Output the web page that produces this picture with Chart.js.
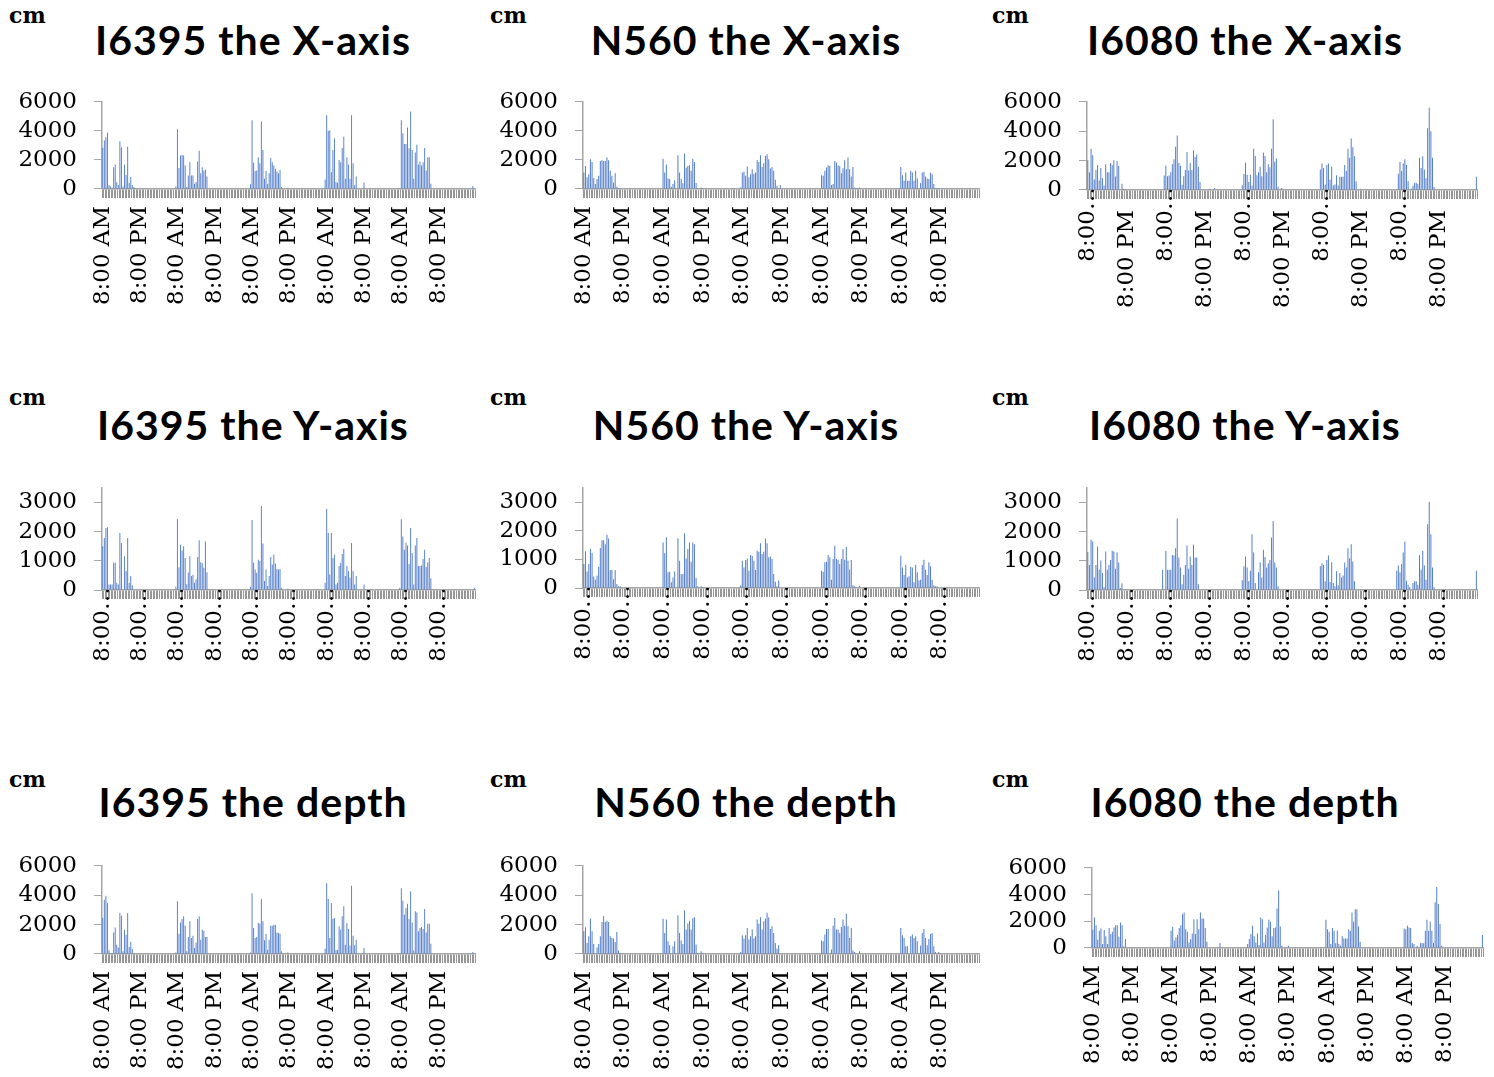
<!DOCTYPE html>
<html>
<head>
<meta charset="utf-8">
<script src="https://cdn.jsdelivr.net/npm/chart.js@4.4.0/dist/chart.umd.min.js"></script>
<style>
html, body { margin: 0; padding: 0; background: #fff; width: 1494px; height: 1077px; overflow: hidden; }
.unit { position: absolute; font: bold 22px "DejaVu Serif"; line-height: 22px; color: #000; }
.ttl { position: absolute; font: bold 41px Lato; letter-spacing: 1px; line-height: 40px; color: #000; white-space: nowrap; transform: translateX(-50%); }
canvas { position: absolute; }
</style>
</head>
<body>
<script>
// half-hour slots, 5 days starting 8:00 AM
const dayNames = ['Day 1', 'Day 2', 'Day 3', 'Day 4', 'Day 5'];
const timeCategories = [];
dayNames.forEach(d => {
    for (let s = 0; s < 48; s++) {
        const m = 8 * 60 + s * 30;
        const h = Math.floor(m / 60) % 24;
        timeCategories.push(d + ' ' + h + ':' + (m % 60 === 0 ? '00' : '30'));
    }
});

const tickAmPm = ['8:00 AM', '8:00 PM'];
const tickCutAm = ['8:00\u2026', '8:00 PM\u2003'];
const tickCut = ['8:00\u2026', '8:00\u2026'];
const yTicks6000 = [0, 2000, 4000, 6000];
const yTicks3000 = [0, 1000, 2000, 3000];

const i6395X = [
    2830,3330,3560,3890,280,180,90,1490,1680,460,280,3290,2870,180,1680,970,2900,410,830,280,140,45,0,60,
    0,0,0,0,0,0,0,0, 0,0,0,0,0,0,0,0, 0,0,0,0,0,0,0,180,
    4110,1450,2300,2340,2300,1610,140,930,1840,930,930,360,480,1890,2640,1090,1500,1270,1320,860,0,0,0,0,
    0,0,0,0,0,0,0,0, 0,0,0,0,0,0,0,0, 0,0,0,0,0,0,0,320,
    4730,1800,1230,1270,2180,1770,4640,2680,700,1230,360,1090,2140,1840,1610,1390,1200,1090,1320,140,0,0,0,90,
    0,0,0,0,0,0,0,0, 0,0,0,0,0,0,0,0, 0,0,0,0,0,0,0,640,
    5070,4000,4050,1160,2680,3480,480,430,2000,1840,2820,3590,700,2180,1680,700,5070,1770,250,860,0,0,0,0,
    450,0,0,0,0,0,0,0, 0,0,0,0,0,0,0,0, 0,0,0,0,0,0,0,70,
    4730,3840,3090,3090,4230,2800,5340,2680,700,2520,3050,1680,1890,1610,1840,2820,1270,2180,2180,360,0,0,0,0,
    0,0,0,0,0,0,0,0, 0,0,0,0,0,0,0,0, 0,0,0,0,0,0,200,0
];
const n560X = [
    1140,1590,800,1020,2050,1860,750,340,680,910,1930,1980,1930,1930,2160,1980,1250,910,450,1090,160,70,70,0,
    0,0,0,0,0,0,0,0, 0,0,0,0,0,0,0,0, 0,0,0,0,0,0,0,0,
    2090,1140,1680,730,680,160,340,610,0,2320,1140,680,390,2450,1480,1590,1640,1250,2090,1860,410,70,0,110,
    70,0,0,0,0,0,0,0, 0,0,0,0,0,0,0,0, 0,0,70,0,0,0,0,110,
    1140,1180,910,1550,800,1020,1360,1050,1140,1980,1860,2320,1520,1770,2270,2390,2050,1410,1520,1250,640,230,70,270,
    0,0,0,0,0,0,0,0, 0,0,0,0,0,0,0,0, 0,0,0,0,0,0,0,0,
    950,910,1250,1480,1640,1590,270,340,1930,1820,1640,1590,1090,1430,1980,1360,2160,1360,860,1520,110,70,70,110,
    0,0,0,0,0,0,0,0, 0,0,0,0,0,0,0,0, 0,0,0,0,0,0,0,70,
    1520,950,570,1140,570,570,1250,1140,570,1250,730,45,410,1140,1180,860,730,680,1140,1020,340,70,70,70,
    0,0,0,0,0,0,0,0, 0,0,0,0,0,0,0,0, 0,0,0,0,0,0,0,0
];
const i6080X = [
    2030,1200,2810,2360,710,1360,1700,650,1490,800,310,1760,1200,1200,1830,1700,2030,910,1980,1650,0,420,90,70,
    0,0,0,0,0,0,0,0, 0,0,0,0,0,0,0,0, 0,0,0,0,0,0,0,980,
    1650,940,980,1200,1760,2100,2940,3700,1830,1650,360,940,1360,2590,1320,1830,1360,2700,2250,2410,1580,540,0,0,
    0,0,0,90,0,0,130,0, 0,0,0,0,0,0,0,0, 0,0,0,0,0,0,0,310,
    1090,1870,1030,540,1030,310,2810,2320,1000,1200,1580,940,2540,2320,1200,1760,1540,2810,4820,1920,2140,220,0,130,
    90,0,0,0,0,0,0,0, 0,0,0,0,0,0,0,0, 0,0,0,0,0,0,0,1400,
    1800,1500,380,1700,1800,700,1600,300,380,1000,300,900,900,900,1700,1300,2800,2200,3500,2900,2300,600,0,0,
    90,0,0,0,0,0,0,0, 0,0,0,0,0,0,0,0, 0,0,0,0,0,0,0,1100,
    1900,1300,1800,2100,1700,600,0,100,300,500,500,400,2200,1500,2300,1400,800,4200,5600,4000,2200,200,0,0,
    0,0,0,0,0,0,0,0, 0,0,0,0,0,0,0,0, 0,0,0,0,0,0,0,900
];
const i6395Y = [
    1500,1780,2120,2150,190,190,190,930,930,250,190,1950,1610,0,1160,650,1780,250,480,160,0,0,0,0,
    0,0,0,0,0,0,0,0, 0,0,0,0,0,0,0,0, 0,0,0,0,0,0,0,110,
    2420,780,1550,1350,1500,1100,200,600,1160,480,520,250,370,1130,1700,950,920,760,1660,610,0,0,0,0,
    0,0,0,0,0,0,0,0, 0,0,0,0,0,0,0,0, 0,0,0,0,0,0,0,110,
    2400,930,700,590,1040,990,2880,1590,310,700,140,480,1130,870,1210,910,720,700,720,80,0,0,0,45,
    0,0,0,0,0,0,0,0, 0,0,0,0,0,0,0,0, 0,0,0,0,0,0,0,250,
    2770,1950,530,1950,1100,1210,190,250,820,930,1230,1400,480,820,650,420,1610,650,190,480,0,0,0,0,
    190,0,0,0,0,0,0,0, 0,0,0,0,0,0,0,0, 0,0,0,0,0,0,0,80,
    2420,1830,1380,1630,1520,890,2120,1270,190,1520,1780,820,820,840,1060,1380,790,950,1100,400,0,0,0,0,
    0,0,0,0,0,0,0,0, 0,0,0,0,0,0,0,0, 0,0,0,0,0,0,0,80
];
const n560Y = [
    840,1280,580,840,1370,1220,400,290,430,740,1400,1670,1670,1530,1860,1730,630,630,310,630,140,60,60,0,
    0,0,0,0,0,0,0,0, 0,0,0,0,0,0,0,0, 0,0,0,0,0,0,0,0,
    1590,1210,1770,550,570,200,370,580,0,1740,950,490,490,1910,1030,1360,1590,920,1590,1530,350,60,0,60,
    35,0,0,0,0,0,0,0, 0,0,0,0,0,0,0,0, 0,0,0,0,0,0,0,100,
    950,720,980,1030,600,1150,1120,950,630,1300,1270,1560,1190,1270,1730,1560,1070,1100,1010,490,220,60,260,0,
    0,0,0,0,0,0,0,0, 0,0,0,0,0,0,0,0, 0,0,0,0,0,0,0,0,
    600,570,900,920,1150,1070,290,1010,1480,1010,990,840,1010,1360,990,1440,950,640,980,100,60,0,0,80,
    0,0,0,0,0,0,0,0, 0,0,0,0,0,0,0,0, 0,0,0,0,0,0,0,0,
    1130,720,450,810,370,410,740,720,200,810,550,260,290,800,990,640,450,900,760,290,100,60,60,0,
    0,0,0,0,0,0,0,0, 0,0,0,0,0,0,0,0, 0,0,0,0,0,0,0,0
];
const i6080Y = [
    1300,860,1720,1660,430,860,1490,690,1010,580,90,1320,690,860,1030,1340,1320,730,1280,940,70,230,0,0,
    0,0,0,0,0,0,0,0, 0,0,0,0,0,0,0,0, 0,0,0,0,0,0,690,0,
    1340,690,690,690,1200,1180,1430,2450,1110,770,200,520,860,1520,730,1150,860,1550,1110,1110,200,0,0,0,
    0,0,0,0,0,0,0,0, 0,0,0,0,0,0,0,0, 0,0,0,0,0,0,0,330,
    810,1150,770,300,660,1910,1280,240,0,610,950,430,1380,1130,770,920,1030,1800,2360,940,770,125,0,0,
    0,0,0,0,0,0,0,0, 0,0,0,0,0,0,0,0, 0,0,0,0,0,0,0,810,
    920,860,300,1030,1180,270,950,240,125,640,160,580,430,500,940,770,1430,1090,1570,980,300,0,0,0,
    0,0,0,0,0,0,0,0, 0,0,0,0,0,0,0,0, 0,0,0,0,0,0,660,840,
    610,890,1280,1660,320,180,90,0,240,300,300,180,1200,690,1340,840,350,2250,3020,1910,770,90,0,0,
    0,0,0,0,0,0,0,0, 0,0,0,0,0,0,0,0, 0,0,0,0,0,0,0,660
];
const i6395D = [
    2450,3690,3960,3470,250,70,70,1470,1810,630,450,2790,2600,180,1650,1310,2790,480,840,360,70,0,0,0,
    0,0,0,0,0,0,0,0, 0,0,0,0,0,0,0,0, 0,0,0,0,0,0,0,110,
    3580,1380,2150,2380,2560,1920,180,1150,2220,1090,1250,410,790,2380,2560,970,1650,1590,1150,1150,0,0,0,0,
    0,0,0,0,0,0,0,0, 0,0,0,0,0,0,0,0, 0,0,0,0,0,0,0,110,
    4140,1770,1090,1150,2110,2060,3740,2220,930,1360,290,970,1920,1920,1990,1990,1470,1430,1380,180,0,0,0,110,
    0,0,0,0,0,0,0,0, 0,0,0,0,0,0,0,0, 0,0,0,0,0,0,0,360,
    4820,3740,1090,3470,2400,2450,250,290,1880,1650,2560,3240,630,2110,1700,570,4640,1250,590,970,0,0,0,70,
    410,0,0,0,0,0,0,0, 0,0,0,0,0,0,0,0, 0,0,0,0,0,0,0,70,
    4480,3620,2670,3130,3420,2380,4250,2150,230,2900,2830,1540,1770,1830,1700,3060,1470,2060,2060,700,0,0,0,0,
    0,0,0,0,0,0,0,0, 0,0,0,0,0,0,0,0, 0,0,0,0,0,0,140,0
];
const n560D = [
    1550,1820,750,1200,2410,1550,680,0,450,680,1200,2180,2570,2180,2270,2180,1200,1090,1050,820,1500,230,70,70,
    0,0,0,0,0,0,0,0, 0,0,0,0,0,0,0,0, 0,0,0,0,0,0,0,0,
    2390,1430,2340,860,590,0,520,860,0,2640,1430,910,680,2980,1660,2070,2270,1660,2430,2500,640,70,0,180,
    90,0,0,0,0,0,0,0, 0,0,0,0,0,0,0,0, 0,0,0,0,0,0,0,140,
    1270,1050,1270,1770,980,1200,1660,1050,1200,2340,2050,2500,1660,2230,2410,2800,2500,1700,1890,1430,750,360,590,0,
    0,0,0,0,0,0,0,0, 0,0,0,0,0,0,0,0, 0,0,0,0,0,0,0,0,
    910,860,1320,1700,1700,0,300,1930,2450,1660,1660,1430,1840,2340,1930,2730,1890,1090,1770,230,140,0,0,180,
    0,0,0,0,0,0,0,0, 0,0,0,0,0,0,0,0, 0,0,0,0,0,0,0,0,
    1770,1270,1090,520,520,0,1200,1320,1090,1200,860,70,570,1430,1700,1090,590,1020,1360,1430,520,140,0,140,
    0,0,0,0,0,0,0,0, 0,0,0,0,0,0,0,0, 0,0,0,0,0,0,0,0
];
const i6080D = [
    1360,2280,1710,620,1290,1460,300,1340,870,300,1490,1040,1210,1540,1710,1710,840,1910,1710,120,670,0,0,0,
    0,0,0,0,0,0,0,0, 0,0,0,0,0,0,0,0, 0,0,0,0,0,0,0,0,
    1290,1590,560,790,970,1490,1710,2530,2650,1410,1210,420,670,1090,2160,1040,2160,1410,2650,2210,2210,1490,470,0,
    0,0,0,0,0,50,370,0, 0,0,0,0,0,0,0,0, 0,0,0,0,0,0,0,300,
    670,1040,1660,870,420,1090,220,2280,2160,420,970,1540,2110,1960,870,1490,1540,2950,4310,1610,170,0,50,0,
    170,0,0,0,0,0,0,0, 0,0,0,0,0,0,0,0, 0,0,0,0,0,0,0,2110,
    1410,1210,300,1490,1290,350,1290,300,170,870,720,720,720,1410,1290,2650,1960,2900,2900,1610,470,50,0,0,
    0,0,0,0,0,0,0,0, 0,0,0,0,0,0,0,0, 0,0,0,0,0,0,0,1460,
    1410,1660,1540,1490,370,300,0,170,0,350,370,350,1290,2110,1290,1960,1290,370,3420,4560,3300,1790,170,0,
    0,0,0,0,0,0,0,0, 0,0,0,0,0,0,0,0, 0,0,0,0,0,0,0,970
];

// layout of the 3x3 grid
const colCenter = [253, 746, 1245];
const colUnitX = [9, 490, 992];
const rowTitleTop = [20, 405, 782];
const rowUnitTop = [4, 386, 768];

// plot: [left, right, top, bottom] of the plot area in page pixels
const panels = [
    { row: 0, col: 0, title: 'I6395 the X-axis', values: i6395X, max: 6000, yTicks: yTicks6000, labels: tickAmPm, plot: [102, 476, 102, 190] },
    { row: 0, col: 1, title: 'N560 the X-axis', values: n560X, max: 6000, yTicks: yTicks6000, labels: tickAmPm, plot: [583, 980, 102, 190] },
    { row: 0, col: 2, title: 'I6080 the X-axis', values: i6080X, max: 6000, yTicks: yTicks6000, labels: tickCutAm, plot: [1087, 1478, 102, 191] },
    { row: 1, col: 0, title: 'I6395 the Y-axis', values: i6395Y, max: 3500, yTicks: yTicks3000, labels: tickCut, plot: [102, 476, 488, 591] },
    { row: 1, col: 1, title: 'N560 the Y-axis', values: n560Y, max: 3500, yTicks: yTicks3000, labels: tickCut, plot: [583, 980, 488, 589] },
    { row: 1, col: 2, title: 'I6080 the Y-axis', values: i6080Y, max: 3500, yTicks: yTicks3000, labels: tickCut, plot: [1087, 1478, 488, 591] },
    { row: 2, col: 0, title: 'I6395 the depth', values: i6395D, max: 6000, yTicks: yTicks6000, labels: tickAmPm, plot: [102, 476, 866, 955] },
    { row: 2, col: 1, title: 'N560 the depth', values: n560D, max: 6000, yTicks: yTicks6000, labels: tickAmPm, plot: [583, 980, 866, 955] },
    { row: 2, col: 2, title: 'I6080 the depth', values: i6080D, max: 6000, yTicks: yTicks6000, labels: tickAmPm, plot: [1092, 1484, 868, 949] }
];

const serif = 'DejaVu Serif';
const yW = 100, xH = 125;

function makeConfig(p) {
    const cut = p.labels[0].indexOf('\u2026') > 0;
    return {
        type: 'bar',
        data: {
            labels: timeCategories,
            datasets: [{
                data: p.values,
                backgroundColor: 'rgba(68, 114, 196, 0.9)',
                barPercentage: 0.62,
                categoryPercentage: 1
            }]
        },
        options: {
            responsive: false,
            maintainAspectRatio: false,
            animation: false,
            layout: { padding: { top: 4, right: 4, left: 0, bottom: 0 } },
            plugins: { legend: { display: false }, tooltip: { enabled: false } },
            scales: {
                x: {
                    grid: { drawOnChartArea: false, tickLength: 9, color: '#969696', offset: true },
                    border: { color: '#a6a6a6', width: 1.5 },
                    ticks: {
                        autoSkip: false, minRotation: 90, maxRotation: 90,
                        padding: cut ? -12 : 8,
                        color: '#000',
                        font: { family: serif, size: 23 },
                        callback: (v, i) => (i % 24 === 0 ? p.labels[(i / 24) % 2] : '')
                    },
                    afterFit: s => { s.height = xH; }
                },
                y: {
                    min: 0, max: p.max,
                    grid: { drawOnChartArea: false, tickLength: 8, color: '#a6a6a6' },
                    border: { color: '#a6a6a6', width: 1.5 },
                    ticks: {
                        autoSkip: false, padding: 17, color: '#000',
                        font: { family: serif, size: 23 },
                        callback: v => String(v)
                    },
                    afterBuildTicks: s => { s.ticks = p.yTicks.map(v => ({ value: v })); },
                    afterFit: s => { s.width = yW; }
                }
            }
        }
    };
}

panels.forEach(p => {
    const unit = document.createElement('div');
    unit.className = 'unit';
    unit.textContent = 'cm';
    unit.style.left = colUnitX[p.col] + 'px';
    unit.style.top = rowUnitTop[p.row] + 'px';
    document.body.appendChild(unit);

    const ttl = document.createElement('div');
    ttl.className = 'ttl';
    ttl.textContent = p.title;
    ttl.style.left = colCenter[p.col] + 'px';
    ttl.style.top = rowTitleTop[p.row] + 'px';
    document.body.appendChild(ttl);

    const [l, r, t, b] = p.plot;
    const cv = document.createElement('canvas');
    cv.width = r - l + yW + 4;
    cv.height = b - t + xH + 4;
    document.body.appendChild(cv);

    // first pass measures how much the library reserves around the plot, second pass fits it
    let chart = new Chart(cv, makeConfig(p));
    let ca = chart.chartArea;
    const w = cv.width + (r - l) - (ca.right - ca.left);
    const h = cv.height + (b - t) - (ca.bottom - ca.top);
    chart.destroy();
    cv.width = w;
    cv.height = h;
    chart = new Chart(cv, makeConfig(p));
    ca = chart.chartArea;
    cv.style.left = (l - ca.left) + 'px';
    cv.style.top = (t - ca.top) + 'px';
});
</script>
</body>
</html>
